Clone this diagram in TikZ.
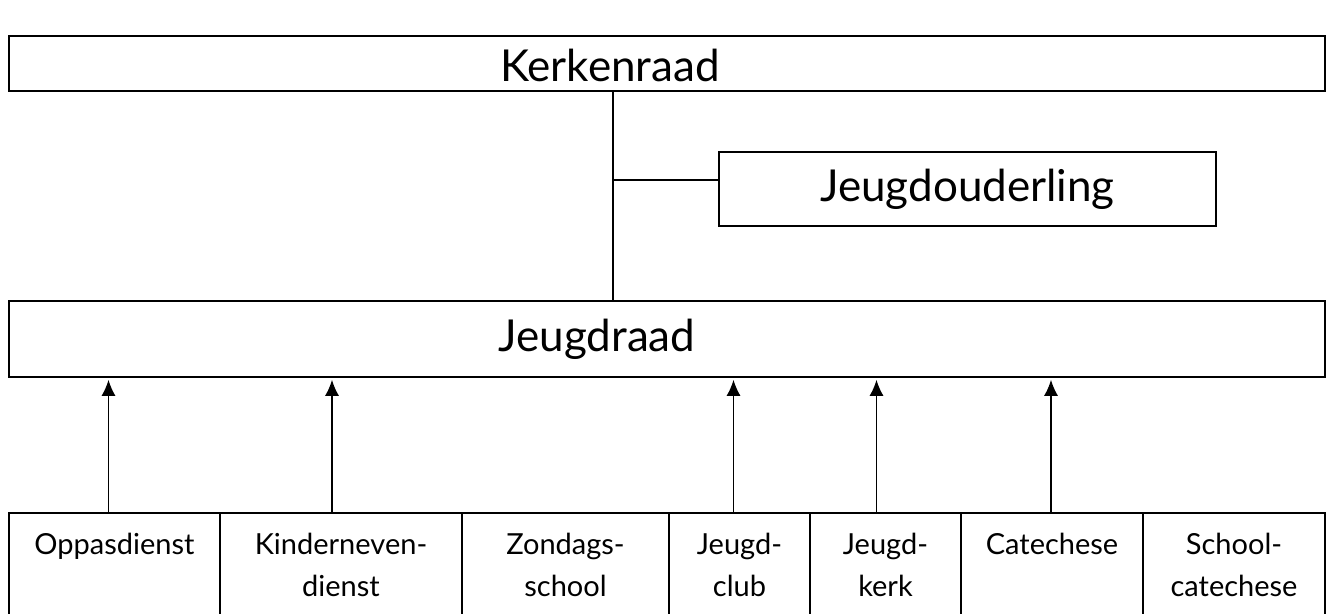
\documentclass[tikz,border=0pt]{standalone}
\usepackage{fontspec}
\setmainfont{Lato}
\usetikzlibrary{positioning,arrows.meta}

\begin{document}
\begin{tikzpicture}[
    x=1pt, y=1pt,
    bigbox/.style={
        rectangle, draw=black, line width=1.6pt,
        minimum width=1316pt, inner sep=0pt
    },
    oudbox/.style={
        rectangle, draw=black, line width=1.3pt,
        minimum width=497pt, minimum height=74pt,
        font=\fontsize{44}{50}\selectfont
    },
    subbox/.style={
        rectangle, draw=black, line width=1.3pt,
        minimum height=110pt, inner sep=0pt, outer sep=0pt
    },
    subtext/.style={
        anchor=north, yshift=-20pt, inner sep=0pt, align=center,
        font=\fontsize{29}{42}\selectfont
    },
    toptext/.style={font=\fontsize{44}{50}\selectfont},
    arrow/.style={-{Latex[length=16pt,width=14pt]}, line width=1.5pt, shorten >=2pt},
    node distance=0pt
]
\useasboundingbox (0,0) rectangle (1327,-613);

% --- Bovenste rij ---
\node[bigbox, minimum height=55pt,
      label={[toptext, xshift=-57pt, yshift=-2pt]center:Kerkenraad}] (kerk) at (667,-63.5) {};
\node[oudbox] (ouder) at (967.5,-189) {Jeugdouderling};
\node[bigbox, minimum height=76pt,
      label={[toptext, xshift=-70pt]center:Jeugdraad}] (jraad) at (667,-339) {};

% --- Onderste rij: de werkgroepen ---
\node[subbox, minimum width=211pt, anchor=north west,
      label={[subtext]north:Oppasdienst}] (opp) at (9,-513) {};
\node[subbox, minimum width=242pt, below right=of opp.north east,
      label={[subtext]north:Kinderneven-\\dienst}] (kind) {};
\node[subbox, minimum width=207pt, below right=of kind.north east,
      label={[subtext]north:Zondags-\\school}] (zon) {};
\node[subbox, minimum width=141pt, below right=of zon.north east,
      label={[subtext]north:Jeugd-\\club}] (club) {};
\node[subbox, minimum width=151pt, below right=of club.north east,
      label={[subtext]north:Jeugd-\\kerk}] (kerkj) {};
\node[subbox, minimum width=182pt, below right=of kerkj.north east,
      label={[subtext]north:Catechese}] (cat) {};
\node[subbox, minimum width=182pt, below right=of cat.north east,
      label={[subtext]north:School-\\catechese}] (scat) {};

% --- Verbindingen ---
\coordinate (split) at (613,-180);
\draw[line width=1.3pt] (kerk.south -| split) -- (jraad.north -| split);
\draw[line width=1.3pt] (split) -- (ouder.west |- split);

\foreach \g/\dx in {opp/-6, kind/-9, club/-6, kerkj/-9, cat/-1}
    \draw[arrow] ([xshift=\dx pt]\g.north) -- ([xshift=\dx pt]\g.north |- jraad.south);

\end{tikzpicture}
\end{document}
